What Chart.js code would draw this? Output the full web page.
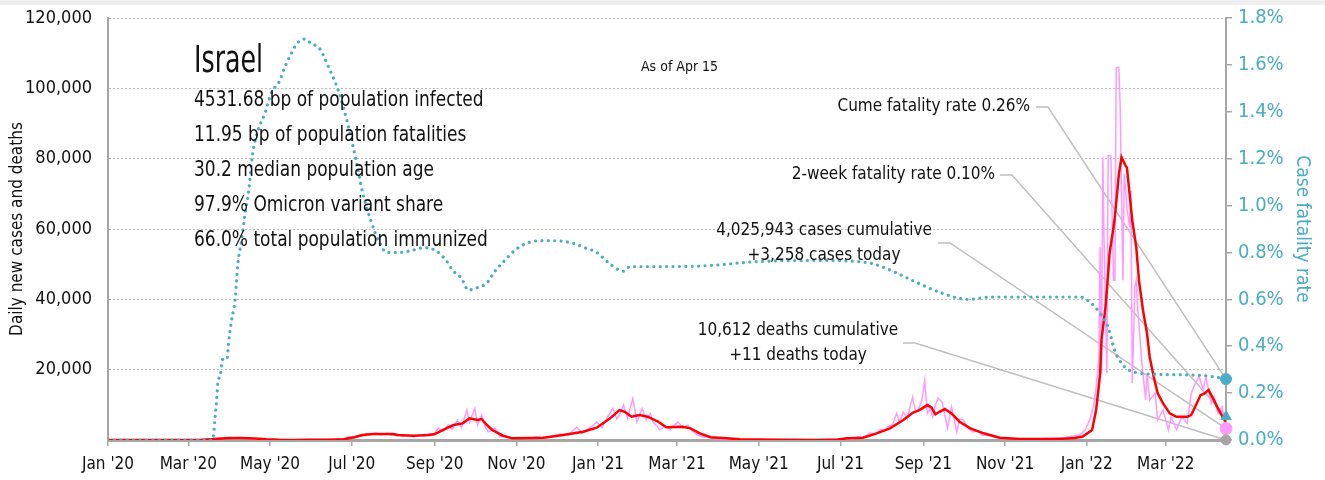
<!DOCTYPE html>
<html>
<head>
<meta charset="utf-8">
<script src="https://cdn.jsdelivr.net/npm/chart.js@4"></script>
<style>
  html, body { margin: 0; padding: 0; background: #fff; overflow: hidden; }
  #wrap { position: relative; width: 1325px; height: 480px; }
  #topbar { position: absolute; left: 0; top: 0; width: 1325px; height: 5px; background: #efefef; }
</style>
</head>
<body>
<div id="wrap">
  <canvas id="chart" width="1325" height="480"></canvas>
  <div id="topbar"></div>
</div>
<script>
// days counted from Jan 1 2020
const lastDay = 835;
const tickDays = [0, 60, 121, 182, 244, 305, 366, 425, 486, 547, 609, 670, 731, 790];
const tickLabels = ["Jan '20", "Mar '20", "May '20", "Jul '20", "Sep '20", "Nov '20", "Jan '21",
  "Mar '21", "May '21", "Jul '21", "Sep '21", "Nov '21", "Jan '22", "Mar '22"];

// daily new cases (raw)
const dailyDays = [0, 55, 65, 72, 78, 82, 86, 90, 94, 98, 102, 106, 110, 116, 122, 130, 145, 160, 170, 176,
  180, 184, 187, 190, 193, 196, 200, 204, 208, 212, 216, 220, 224, 228, 232, 236, 240, 243, 247, 250,
  254, 257, 261, 264, 268, 270, 274, 276, 279, 282, 284, 289, 293, 297, 302, 308, 314, 320, 326, 332,
  338, 344, 350, 354, 358, 362, 365, 369, 373, 377, 380, 382, 385, 388, 392, 395, 399, 402, 405, 407,
  410, 412, 416, 420, 423, 426, 429, 433, 437, 440, 444, 448, 452, 458, 465, 480, 520, 540, 548, 552,
  556, 560, 564, 569, 573, 577, 580, 582, 586, 589, 591, 594, 597, 599, 601, 603, 605, 608, 610, 612,
  614, 616, 618, 620, 623, 627, 630, 634, 636, 639, 642, 646, 650, 653, 657, 661, 666, 675, 690, 705,
  715, 722, 726, 730, 733, 736, 738, 740, 741, 742, 743, 744, 746, 747, 749, 751, 752, 753, 755, 756,
  758, 759, 761, 763, 764, 765, 767, 768, 769, 772, 775, 776, 778, 782, 784, 788, 792, 794, 798, 802,
  806, 809, 812, 815, 818, 820, 824, 826, 829, 832, 835];
const dailyCases = [0, 0, 20, 100, 300, 600, 500, 750, 550, 650, 400, 450, 250, 200, 100, 50, 20, 50, 150, 300,
  900, 700, 1300, 1100, 1800, 1500, 2000, 1400, 1900, 1300, 1700, 1000, 1500, 900, 1400, 1100, 1800, 1400, 3400, 2400,
  4200, 3000, 5670, 3600, 8500, 5100, 9000, 4260, 7100, 3500, 2270, 3400, 850, 1100, 400, 650, 500, 900, 600, 1000,
  1700, 1400, 3700, 2000, 3000, 4000, 5100, 3500, 6500, 9000, 6000, 7100, 9930, 6240, 11900, 5100, 9000, 5670, 7500, 5100,
  4000, 2840, 4000, 3000, 4300, 5100, 3400, 4200, 2270, 1500, 850, 900, 500, 300, 150, 80, 30, 80, 300, 500,
  300, 900, 700, 2000, 1500, 3000, 2600, 3700, 4500, 7570, 5000, 7950, 6000, 9500, 12200, 8000, 8500, 11350, 17000, 7570,
  9000, 6500, 10000, 11900, 10800, 3400, 9360, 2270, 6000, 5670, 3500, 2270, 2600, 1300, 1400, 900, 570, 400, 250, 500,
  700, 1200, 1500, 3000, 5500, 9450, 15100, 22700, 54800, 18900, 80400, 54800, 19000, 80800, 80800, 45400, 45400, 105900, 105900, 94500,
  45400, 75700, 66200, 60500, 70900, 16200, 43500, 45400, 37800, 22700, 11350, 19000, 11350, 13250, 5670, 8500, 2840, 6600, 2840, 6600,
  4730, 13250, 16100, 18000, 14200, 18000, 10400, 12300, 7570, 9450, 3258];

// 7-day average of new cases
const avgDays = [0, 60, 70, 80, 88, 95, 100, 110, 118, 128, 140, 150, 165, 176, 184, 190, 198, 213, 216, 228,
  240, 244, 250, 258, 265, 270, 276, 279, 283, 287, 295, 302, 325, 340, 355, 365, 375, 382, 386, 391,
  397, 403, 411, 417, 429, 435, 442, 450, 462, 472, 500, 530, 545, 552, 564, 574, 584, 594, 601, 606,
  612, 615, 618, 621, 625, 630, 636, 644, 654, 666, 681, 711, 722, 728, 735, 738, 741, 742, 745, 747,
  748, 751, 752, 755, 757, 760, 761, 763, 765, 768, 770, 773, 776, 778, 781, 784, 788, 793, 798, 806,
  809, 812, 816, 819, 822, 826, 829, 833, 835];
const avgCases = [0, 0, 50, 300, 500, 550, 600, 400, 200, 60, 20, 40, 60, 200, 770, 1400, 1700, 1700, 1400, 1220,
  1400, 1700, 2840, 4260, 4730, 6150, 5670, 5960, 4260, 2840, 1220, 470, 650, 1400, 2360, 3500, 6150, 8500, 8030, 6620,
  7090, 6620, 5200, 3600, 3780, 3320, 1900, 770, 480, 200, 60, 30, 150, 480, 650, 1900, 3320, 5670, 7750, 8500,
  9930, 9280, 7300, 8030, 8800, 7570, 5200, 3320, 1900, 650, 280, 300, 600, 1000, 2840, 8500, 18900, 28400, 37800, 47300,
  53000, 60500, 63350, 75660, 80400, 78000, 77500, 70000, 62400, 54800, 45400, 36900, 30400, 23600, 18000, 13250, 10400, 7570, 6600, 6600,
  7100, 9450, 12770, 13250, 14200, 11350, 9000, 6150, 5200];

// case fatality rate, %
const cfrDays = [0, 78, 79, 80, 81, 82, 84, 86, 89, 90, 92, 95, 97, 100, 102, 105, 108, 112, 117, 122,
  128, 132, 137, 141, 147, 152, 158, 164, 172, 179, 185, 190, 196, 203, 208, 217, 228, 235, 244, 252,
  258, 264, 269, 276, 283, 289, 297, 304, 313, 323, 332, 347, 356, 365, 373, 380, 385, 390, 403, 425,
  452, 482, 527, 567, 582, 601, 621, 642, 661, 726, 733, 741, 747, 752, 758, 766, 786, 810, 825, 835];
const cfrPct = [0, 0, 0.03, 0.10, 0.16, 0.24, 0.28, 0.35, 0.35, 0.41, 0.50, 0.60, 0.75, 0.86, 0.95, 1.06, 1.22, 1.32, 1.39, 1.48,
  1.53, 1.59, 1.65, 1.69, 1.71, 1.69, 1.67, 1.60, 1.49, 1.35, 1.20, 1.06, 0.94, 0.84, 0.80, 0.80, 0.81, 0.82, 0.81, 0.77,
  0.72, 0.69, 0.64, 0.65, 0.67, 0.72, 0.77, 0.81, 0.84, 0.85, 0.85, 0.84, 0.82, 0.80, 0.76, 0.73, 0.72, 0.74, 0.74, 0.74,
  0.745, 0.76, 0.766, 0.757, 0.73, 0.68, 0.63, 0.60, 0.61, 0.61, 0.59, 0.54, 0.48, 0.38, 0.32, 0.29, 0.28, 0.277, 0.27, 0.26];

// latest figures
const cumeRate = 0.26;
const twoWeekRate = 0.10;
const casesCumulative = 4025943;
const casesToday = 3258;
const deathsCumulative = 10612;
const deathsToday = 11;

const statLines = [
  '4531.68 bp of population infected',
  '11.95 bp of population fatalities',
  '30.2 median population age',
  '97.9% Omicron variant share',
  '66.0% total population immunized'
];

const FONT = '"DejaVu Sans Condensed", "Liberation Sans Narrow", "Roboto Condensed", "DejaVu Sans", sans-serif';
const TEAL = '#4bacc6';
const PINK = '#ff99ff';
const GREY = '#a6a6a6';

const fmt = n => n.toLocaleString('en-US');
const pts = (xs, ys) => xs.map((d, i) => ({ x: d, y: ys[i] }));

const callouts = [
  { lines: [`Cume fatality rate ${cumeRate.toFixed(2)}%`], tx: 1030, ty: 107, align: 'right',
    lx: 1036, ly: 107, axis: 'y2', value: cumeRate },
  { lines: [`2-week fatality rate ${twoWeekRate.toFixed(2)}%`], tx: 995, ty: 175, align: 'right',
    lx: 1000, ly: 175, axis: 'y2', value: twoWeekRate },
  { lines: [`${fmt(casesCumulative)} cases cumulative`, `+${fmt(casesToday)} cases today`], tx: 824, ty: 231, align: 'center',
    lx: 938, ly: 243, axis: 'y', value: casesToday },
  { lines: [`${fmt(deathsCumulative)} deaths cumulative`, `+${fmt(deathsToday)} deaths today`], tx: 798, ty: 331, align: 'center',
    lx: 903, ly: 343, axis: 'y', value: deathsToday }
];

// left-aligned text squeezed horizontally
function narrowText(ctx, text, x, y, sx) {
  ctx.save();
  ctx.translate(x, y);
  ctx.scale(sx, 1);
  ctx.fillText(text, 0, 0);
  ctx.restore();
}

const overlay = {
  id: 'overlay',
  beforeDatasetsDraw(chart) {
    const { ctx, scales } = chart;
    const xEnd = scales.x.getPixelForValue(lastDay);
    ctx.save();
    ctx.strokeStyle = '#bfbfbf';
    ctx.lineWidth = 1.5;
    callouts.forEach(c => {
      ctx.beginPath();
      ctx.moveTo(c.lx, c.ly);
      ctx.lineTo(c.lx + 12, c.ly);
      ctx.lineTo(xEnd, scales[c.axis].getPixelForValue(c.value));
      ctx.stroke();
    });
    ctx.restore();
  },
  afterDatasetsDraw(chart) {
    const { ctx } = chart;
    ctx.save();
    ctx.textBaseline = 'middle';
    ctx.fillStyle = '#111';
    ctx.textAlign = 'left';

    ctx.font = `37px ${FONT}`;
    narrowText(ctx, 'Israel', 194, 62, 0.76);

    ctx.font = `21px ${FONT}`;
    statLines.forEach((s, i) => narrowText(ctx, s, 194, 101 + i * 35, 0.9));

    ctx.font = `14px ${FONT}`;
    ctx.fillText('As of Apr 15', 641, 67);

    ctx.font = `17px ${FONT}`;
    callouts.forEach(c => {
      ctx.textAlign = c.align;
      c.lines.forEach((l, i) => ctx.fillText(l, c.tx, c.ty + i * 25));
    });

    // axis titles
    ctx.textAlign = 'center';
    ctx.save();
    ctx.translate(18, 229);
    ctx.rotate(-Math.PI / 2);
    ctx.fillText('Daily new cases and deaths', 0, 0);
    ctx.restore();

    ctx.save();
    ctx.fillStyle = TEAL;
    ctx.font = `19px ${FONT}`;
    ctx.translate(1302, 229);
    ctx.rotate(Math.PI / 2);
    ctx.fillText('Case fatality rate', 0, 0);
    ctx.restore();

    ctx.restore();
  }
};

const xFont = { family: FONT, size: 17 };
const yFont = { family: FONT, size: 18 };
const y2Font = { family: FONT, size: 20 };

new Chart(document.getElementById('chart'), {
  type: 'line',
  data: {
    datasets: [
      { data: [{ x: lastDay, y: cumeRate }], yAxisID: 'y2', showLine: false, clip: false,
        pointRadius: 5.5, pointBackgroundColor: TEAL, pointBorderColor: TEAL },
      { data: [{ x: lastDay, y: twoWeekRate }], yAxisID: 'y2', showLine: false, clip: false,
        pointStyle: 'triangle', pointRadius: 6, pointBackgroundColor: TEAL, pointBorderColor: TEAL },
      { data: [{ x: lastDay, y: deathsToday }], yAxisID: 'y', showLine: false, clip: false,
        pointRadius: 5, pointBackgroundColor: GREY, pointBorderColor: GREY },
      { data: [{ x: lastDay, y: casesToday }], yAxisID: 'y', showLine: false, clip: false,
        pointRadius: 6, pointBackgroundColor: PINK, pointBorderColor: PINK },
      { label: 'Case fatality rate', data: pts(cfrDays, cfrPct), yAxisID: 'y2',
        borderColor: TEAL, borderWidth: 3.2, borderDash: [0.01, 6.4], borderCapStyle: 'round',
        cubicInterpolationMode: 'monotone', pointRadius: 0 },
      { label: '7-day average', data: pts(avgDays, avgCases), yAxisID: 'y',
        borderColor: '#ff0000', borderWidth: 2.5, pointRadius: 0, tension: 0 },
      { label: 'Daily new cases', data: pts(dailyDays, dailyCases), yAxisID: 'y',
        borderColor: PINK, borderWidth: 1.5, pointRadius: 0, tension: 0 }
    ]
  },
  options: {
    responsive: false,
    animation: false,
    devicePixelRatio: 1,
    layout: { padding: { top: 17, left: 0, right: 0, bottom: 0 } },
    plugins: { legend: { display: false }, tooltip: { enabled: false } },
    scales: {
      x: {
        type: 'linear', min: 0, max: lastDay,
        afterBuildTicks: s => { s.ticks = tickDays.map(v => ({ value: v })); },
        afterFit: s => { s.height = 40; },
        ticks: { callback: v => tickLabels[tickDays.indexOf(v)], font: xFont, color: '#111',
          padding: 8, maxRotation: 0, autoSkip: false },
        grid: { drawOnChartArea: false, tickLength: 6, color: GREY, lineWidth: 1.5 },
        border: { color: GREY, width: 3 }
      },
      y: {
        position: 'left', min: 0, max: 120000,
        afterFit: s => { s.width = 108; },
        // invisible tick marks keep the labels clear of the axis
        ticks: { stepSize: 20000, callback: v => (v === 0 ? '' : fmt(v)), font: yFont, color: '#111', padding: 0 },
        grid: { color: '#bdbdbd', lineWidth: 1, tickLength: 16, tickColor: 'rgba(0,0,0,0)' },
        border: { color: GREY, width: 2, dash: [2, 2] }
      },
      y2: {
        position: 'right', min: 0, max: 1.8,
        afterFit: s => { s.width = 99; },
        ticks: { stepSize: 0.2, callback: v => v.toFixed(1) + '%', font: y2Font, color: TEAL, padding: 6 },
        grid: { drawOnChartArea: false, tickLength: 6, color: GREY, lineWidth: 1.5 },
        border: { color: GREY, width: 2 }
      }
    }
  },
  plugins: [overlay]
});
</script>
</body>
</html>
